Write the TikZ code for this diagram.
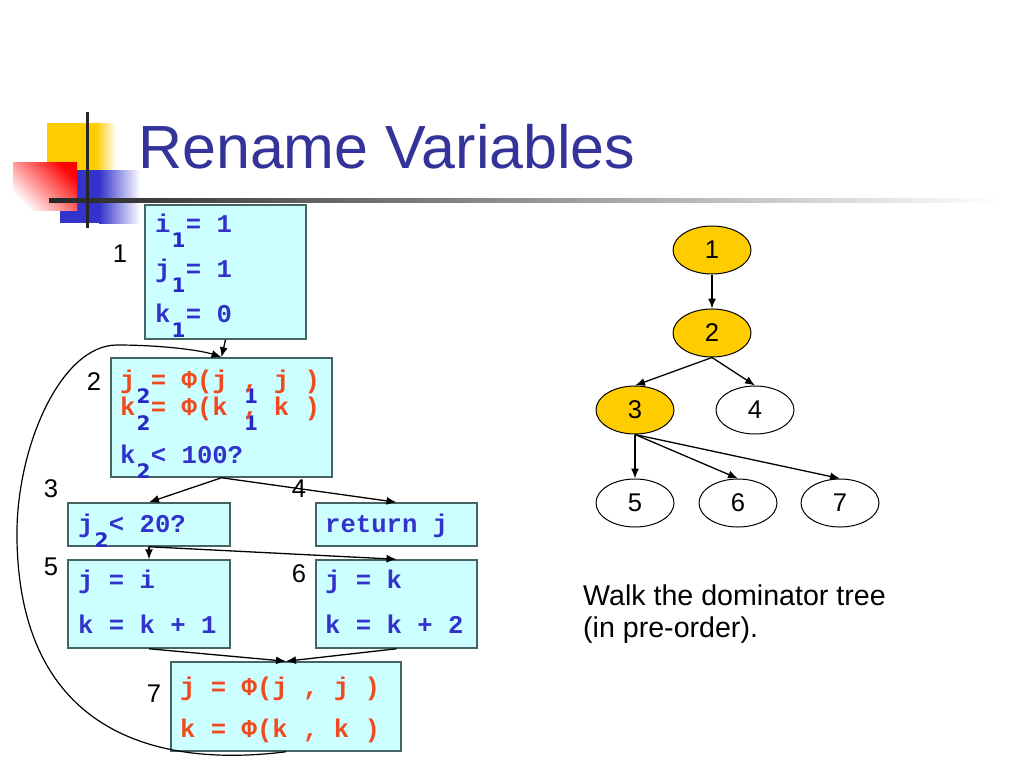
\documentclass[tikz,border=0pt]{standalone}
\usepackage{fontspec}
\setmainfont{Liberation Sans}
\setsansfont{Liberation Sans}
\setmonofont{Liberation Mono}
\newfontfamily\subfam{DejaVu Sans}
\usetikzlibrary{arrows.meta,positioning,shapes.geometric}
\frenchspacing

\definecolor{titleblue}{RGB}{51,51,153}
\definecolor{codeblue}{RGB}{51,51,204}
\definecolor{subblue}{RGB}{40,40,200}
\definecolor{phired}{RGB}{240,75,30}
\definecolor{boxfill}{RGB}{204,255,255}
\definecolor{boxline}{RGB}{70,100,100}
\definecolor{gold}{RGB}{255,204,0}

\newcommand\codefont{\ttfamily\bfseries\fontsize{25.6}{30}\selectfont}
\newcommand\subnum[1]{\rlap{\hspace{1pt}\raisebox{-15pt}{\subfam\bfseries\fontsize{20}{20}\selectfont\color{subblue}#1}}}

\tikzset{
  blk/.style={draw=boxline, line width=1.5pt, fill=boxfill, inner sep=0pt},
  codeline/.style={anchor=base west, inner sep=0pt, font=\codefont, text=codeblue},
  philine/.style={codeline, text=phired},
  blklabel/.style={anchor=base, inner sep=0pt, font=\fontsize{25.6}{30}\selectfont},
  dom/.style={ellipse, draw, line width=1pt, minimum width=78pt, minimum height=48pt,
              inner sep=0pt, font=\fontsize{25.6}{30}\selectfont},
  link/.style={-{Latex[length=10pt,width=8pt]}, line width=1.3pt},
}

\begin{document}
\begin{tikzpicture}[x=1pt, y=-1pt]
\useasboundingbox (0,0) rectangle (1024,768);
% logo and title
\fill[gold] (47,123) rectangle (97,170);
\shade[left color=gold, right color=white] (96,123) rectangle (116,170);
\fill[codeblue] (60,170) rectangle (100,223);
\shade[left color=codeblue, right color=white] (99,170) rectangle (140,223);
\shade[top color=red, bottom color=white, shading angle=-45] (13,162) rectangle (77,210);
\shade[left color=black!85, right color=white] (49,198) rectangle (1000,202);
\fill[black!85] (85.5,112) rectangle (89,228);
\node[anchor=base west, inner sep=0pt, text=titleblue, font=\fontsize{61}{62}\selectfont]
  (title) at (138,168) {Rename Variables};
%
\node[blk, minimum width=161pt, minimum height=134pt] (b1) at (225.5,272) {};
\node[blk, minimum width=221pt, minimum height=119pt] (b2) at (221.5,417.5) {};
\node[blk, minimum width=162pt, minimum height=43pt]  (b3) at (149,524.5) {};
\node[blk, minimum width=161pt, minimum height=43pt]  (b4) at (396.5,524.5) {};
\node[blk, minimum width=162pt, minimum height=88pt]  (b5) at (149,604) {};
\node[blk, minimum width=161pt, minimum height=88pt]  (b6) at (396.5,604) {};
\node[blk, minimum width=230pt, minimum height=89pt]  (b7) at (286,706.5) {};
%
\node[codeline] (c11) at (155,232) {i\subnum{1} = 1};
\node[codeline] (c12) at (155,277) {j\subnum{1} = 1};
\node[codeline] (c13) at (155,322) {k\subnum{1} = 0};
\node[philine]  (c21) at (120,388) {j\subnum{2} = Φ(j \subnum{1}, j )};
\node[philine]  (c22) at (120,415) {k\subnum{2} = Φ(k \subnum{1}, k )};
\node[codeline] (c23) at (120,463) {k\subnum{2} < 100?};
\node[codeline] (c3)  at (78,532)  {j\subnum{2} < 20?};
\node[codeline] (c4)  at (325,532) {return j};
\node[codeline] (c51) at (78,588)  {j = i};
\node[codeline] (c52) at (78,633)  {k = k + 1};
\node[codeline] (c61) at (325,588) {j = k};
\node[codeline] (c62) at (325,633) {k = k + 2};
\node[philine]  (c71) at (180,695) {j = Φ(j , j )};
\node[philine]  (c72) at (180,737) {k = Φ(k , k )};
%
\foreach \n/\x/\y in {1/120/262, 2/94/390, 3/51/497, 4/299/497, 5/51/575, 6/299/582, 7/154/702}
    \node[blklabel] (n\n) at (\x,\y) {\n};
%
\foreach \a/\b in {b1/b2, b2/b3, b2/b4, b3/b5, b3/b6, b5/b7, b6/b7}
    \draw[link] (\a.south) -- (\b.north);
\draw[link, line width=1.2pt] (b7.south) .. controls (140,770) and (20,720) .. (17,540)
    .. controls (15,450) and (60,345) .. (117,345)
    .. controls (160,345) and (200,350) .. (b2.north);
% dominator tree
\node[dom, fill=gold] (t1) at (712,250) {1};
\node[dom, fill=gold] (t2) at (712,333) {2};
\node[dom, fill=gold] (t3) at (635,410) {3};
\node[dom]            (t4) at (755,410) {4};
\node[dom]            (t5) at (635,503) {5};
\node[dom]            (t6) at (738,503) {6};
\node[dom]            (t7) at (840,503) {7};
\foreach \a/\b in {t1/t2, t2/t3, t2/t4, t3/t5, t3/t6, t3/t7}
    \draw[link] (\a.south) -- (\b.north);
%
\node[anchor=base west, inner sep=0pt, font=\fontsize{28.6}{32}\selectfont]
  (walk1) at (583,605) {Walk the dominator tree};
\node[anchor=base west, inner sep=0pt, font=\fontsize{28.6}{32}\selectfont]
  (walk2) at (583,637) {(in pre-order).};
\end{tikzpicture}
\end{document}
